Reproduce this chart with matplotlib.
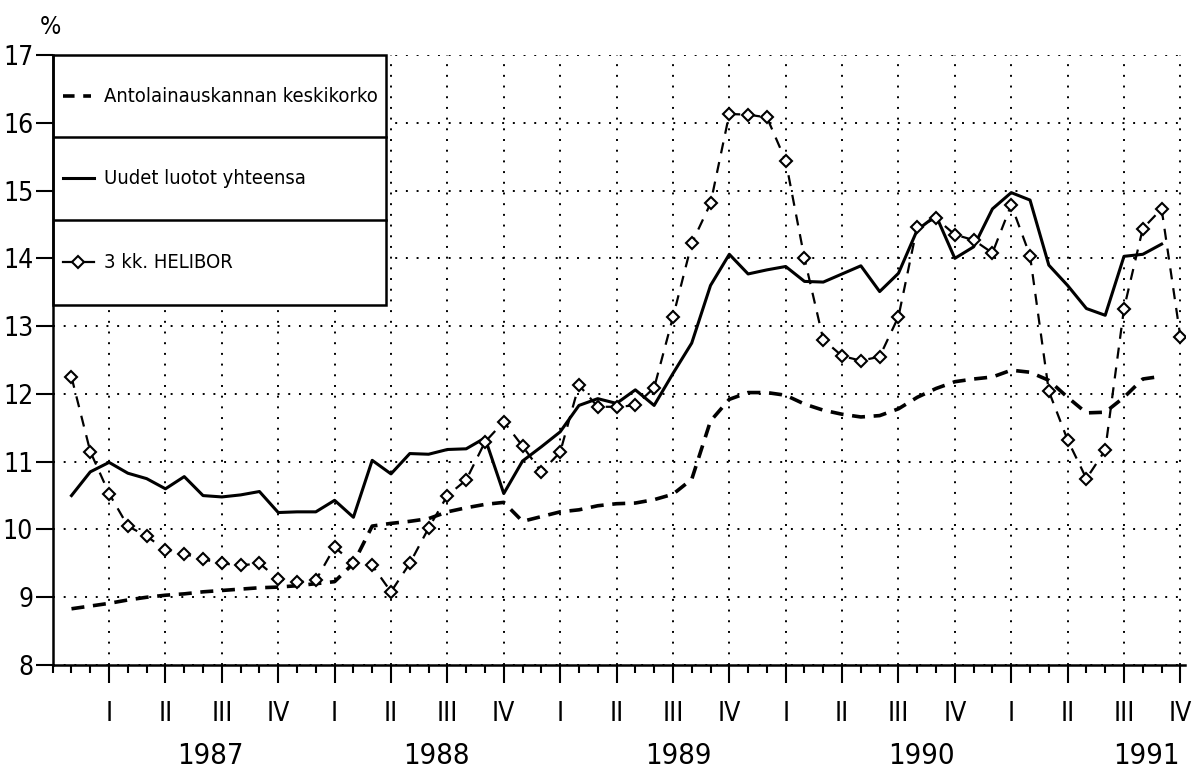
import numpy as np
import matplotlib
matplotlib.use("Agg")
import matplotlib.pyplot as plt
from matplotlib.patches import Rectangle

plt.rcParams['font.family'] = ['DejaVu Sans']
plt.rcParams['font.stretch'] = 'condensed'

# monthly values, month 1 = first month shown (Dec 1986 area)
helibor = [12.25, 11.15, 10.53, 10.05, 9.90, 9.70, 9.64, 9.56, 9.50, 9.47,
           9.50, 9.27, 9.22, 9.25, 9.74, 9.50, 9.47, 9.08, 9.50, 10.02,
           10.50, 10.73, 11.29, 11.59, 11.23, 10.85, 11.14, 12.13, 11.81, 11.81,
           11.83, 12.09, 13.13, 14.22, 14.81, 16.13, 16.12, 16.08, 15.44, 14.00,
           12.80, 12.56, 12.49, 12.55, 13.14, 14.47, 14.59, 14.35, 14.27, 14.08,
           14.79, 14.04, 12.04, 11.32, 10.75, 11.17, 13.26, 14.44, 14.73, 12.84]

uudet = [10.50, 10.85, 10.99, 10.83, 10.75, 10.60, 10.78, 10.50, 10.48, 10.51,
         10.56, 10.25, 10.26, 10.26, 10.43, 10.18, 11.02, 10.82, 11.12, 11.11,
         11.18, 11.19, 11.35, 10.53, 11.01, 11.22, 11.44, 11.83, 11.93, 11.86,
         12.06, 11.83, 12.30, 12.75, 13.60, 14.06, 13.77, 13.83, 13.88, 13.66,
         13.65, 13.77, 13.89, 13.51, 13.78, 14.42, 14.63, 14.00, 14.17, 14.73,
         14.97, 14.86, 13.90, 13.60, 13.26, 13.16, 14.03, 14.06, 14.21]

antolainaus = [8.83, 8.87, 8.91, 8.96, 9.00, 9.03, 9.05, 9.08, 9.10, 9.12,
               9.14, 9.15, 9.17, 9.20, 9.23, 9.50, 10.05, 10.09, 10.12, 10.16,
               10.26, 10.32, 10.37, 10.40, 10.12, 10.19, 10.26, 10.29, 10.35, 10.38,
               10.39, 10.44, 10.52, 10.74, 11.60, 11.92, 12.02, 12.02, 11.98, 11.85,
               11.76, 11.70, 11.66, 11.68, 11.78, 11.95, 12.08, 12.18, 12.22, 12.25,
               12.35, 12.32, 12.20, 11.95, 11.72, 11.73, 11.95, 12.22, 12.26]

quarters = ['I', 'II', 'III', 'IV'] * 5
years = ['1987', '1988', '1989', '1990', '1991']
year_pos = [8.4, 20.4, 33.3, 46.2, 58.2]

labels = ['Antolainauskannan keskikorko', 'Uudet luotot yhteensa', '3 kk. HELIBOR']

m_hel = np.arange(1, len(helibor) + 1)
m_uud = np.arange(1, len(uudet) + 1)
m_ant = np.arange(1, len(antolainaus) + 1)

fig = plt.figure(figsize=(11.92, 7.75), dpi=100)
ax = fig.add_axes([0.0442, 0.1419, 0.9500, 0.7871])

ant_style = dict(color='black', lw=2.6, dashes=(3.6, 2.4))
uud_style = dict(color='black', lw=2.2)
hel_style = dict(color='black', lw=1.6, dashes=(5, 4), marker='D', ms=6.5,
                 mfc='white', mec='black', mew=1.5)

ax.plot(m_ant, antolainaus, **ant_style, zorder=3)
ax.plot(m_uud, uudet, **uud_style, zorder=3)
ax.plot(m_hel, helibor, **hel_style, zorder=4)

ax.set_xlim(0, 60.25)
ax.set_ylim(8, 17)

# ticks
ax.set_yticks(range(8, 18))
ax.tick_params(axis='y', direction='out', length=12, width=1.5, pad=2, labelsize=19)
ax.set_xticks(np.arange(3, 61, 3))
ax.set_xticklabels(quarters)
ax.set_xticks(np.arange(0, 61, 1), minor=True)
ax.tick_params(axis='x', which='major', direction='out', length=13, width=1.5,
               pad=13, labelsize=19)
ax.tick_params(axis='x', which='minor', direction='out', length=6, width=1.5)

for yr, p in zip(years, year_pos):
    ax.text(p, -0.149, yr, transform=ax.get_xaxis_transform(), ha='center',
            va='center', fontsize=21)

fig.text(50 / 1192, 1 - 27 / 775, '%', fontsize=18, ha='center', va='center')

# grid / frame
ax.set_axisbelow(True)
ax.grid(True, which='major', color='black', lw=1.4, linestyle=(0, (1, 4.5)))
ax.spines['top'].set_visible(False)
ax.spines['right'].set_visible(False)
ax.spines['left'].set_linewidth(1.8)
ax.spines['bottom'].set_linewidth(1.8)

# legend box
bx_right = 17.73
rows = [17.0, 15.79, 14.57, 13.31]
ax.add_patch(Rectangle((0, rows[3]), bx_right, rows[0] - rows[3], facecolor='white',
                       edgecolor='black', lw=1.8, zorder=2, clip_on=False))
for r in rows[1:3]:
    ax.plot([0, bx_right], [r, r], color='black', lw=1.8, zorder=2)

centers = [(rows[i] + rows[i + 1]) / 2 for i in range(3)]
ax.plot([0.55, 2.05], [centers[0]] * 2, color='black', lw=2.6, dashes=(3.2, 2.4), zorder=3)
ax.plot([0.55, 2.2], [centers[1]] * 2, **uud_style, zorder=3)
ax.plot([0.55, 2.2], [centers[2]] * 2, color='black', lw=1.6, zorder=3)
ax.plot([1.35], [centers[2]], marker='D', ms=6.5, mfc='white', mec='black', mew=1.5,
        ls='none', zorder=4)
for c, lab in zip(centers, labels):
    ax.text(2.75, c, lab, ha='left', va='center', fontsize=14.5, zorder=5)

fig.savefig('out.png', dpi=100)
